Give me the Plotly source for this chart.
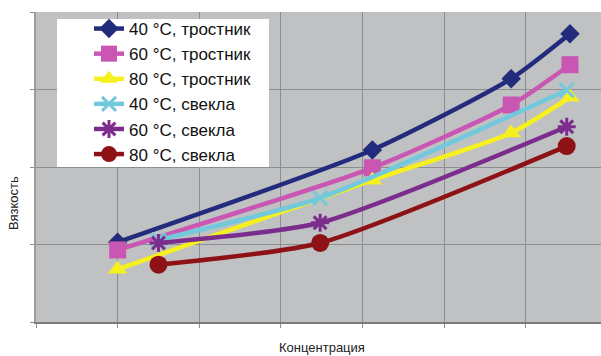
import plotly.graph_objects as go

# Data (x in grid units of concentration, y in grid units of viscosity)
series_names = ["40 °C, тростник", "60 °C, тростник", "80 °C, тростник",
                "40 °C, свекла", "60 °C, свекла", "80 °C, свекла"]
x_cane = [1.0, 4.12, 5.82, 6.54]
x_beet = [1.5, 3.48, 6.5]
y_cane40 = [1.03, 2.22, 3.14, 3.72]
y_cane60 = [0.93, 1.99, 2.80, 3.32]
y_cane80 = [0.68, 1.83, 2.44, 2.90]
y_beet40 = [1.06, 1.60, 2.99]
y_beet60 = [1.02, 1.28, 2.52]
y_beet80 = [0.74, 1.02, 2.27]

colors = ["#232C7C", "#C856B2", "#F6F01E", "#72C9DC", "#7B2C8C", "#8E1116"]
symbols = ["diamond", "square", "triangle-up", "x-thin-open", "asterisk-open", "circle"]
sizes = [15, 17, 17, 14, 15, 18]

xs = [x_cane, x_cane, x_cane, x_beet, x_beet, x_beet]
ys = [y_cane40, y_cane60, y_cane80, y_beet40, y_beet60, y_beet80]

fig = go.Figure()
for name, x, y, c, s, sz in zip(series_names, xs, ys, colors, symbols, sizes):
    open_sym = s.endswith("open")
    fig.add_trace(go.Scatter(
        x=x, y=y, name=name, mode="lines+markers",
        line=dict(color=c, width=4.5, shape="spline", smoothing=0.6),
        marker=dict(symbol=s, size=sz, color=c,
                    line=dict(color=c, width=3 if open_sym else 0)),
    ))

# plot-area pixel helpers for placement of legend box and titles
L, R, T, B = 36, 601, 12, 322
def px(xp):
    return (xp - L) / (R - L)
def py(yp):
    return (B - yp) / (B - T)

grid_c = "#8C8E90"
fig.update_layout(
    width=601, height=356,
    margin=dict(l=L, r=601 - R, t=T, b=356 - B),
    paper_bgcolor="white",
    plot_bgcolor="#BFC1C3",
    font=dict(family="Liberation Sans, Arial", size=13, color="#222"),
    showlegend=True,
    legend=dict(
        x=px(89), y=py(11), xanchor="left", yanchor="top",
        bgcolor="rgba(0,0,0,0)", font=dict(size=17, color="#111"),
        tracegroupgap=0, itemwidth=30,
    ),
    shapes=[dict(type="rect", xref="paper", yref="paper",
                 x0=px(57), x1=px(269), y0=py(167), y1=py(19),
                 fillcolor="white", line=dict(width=0), layer="above")],
    xaxis=dict(range=[0, 6.92], dtick=1, tick0=0, showticklabels=False,
               showgrid=True, gridcolor=grid_c, gridwidth=1,
               ticks="outside", ticklen=4, tickcolor=grid_c,
               showline=True, linecolor="#7A7C7E", linewidth=2,
               zeroline=False, fixedrange=True),
    yaxis=dict(range=[0, 4], dtick=1, tick0=0, showticklabels=False,
               showgrid=True, gridcolor=grid_c, gridwidth=1,
               ticks="outside", ticklen=4, tickcolor=grid_c,
               showline=True, linecolor="#9A9C9E", linewidth=2,
               zeroline=False, fixedrange=True),
    annotations=[
        dict(text="Концентрация", xref="paper", yref="paper",
             x=px(322), y=py(347), showarrow=False,
             xanchor="center", yanchor="middle", font=dict(size=13, color="#222")),
        dict(text="Вязкость", xref="paper", yref="paper",
             x=px(13), y=py(203), showarrow=False,
             textangle=-90, xanchor="center", yanchor="middle",
             font=dict(size=13, color="#222")),
    ],
)

fig.write_html("out.html", config={"displayModeBar": False},
               post_script="document.body.style.margin='0';document.body.style.overflow='hidden';")
